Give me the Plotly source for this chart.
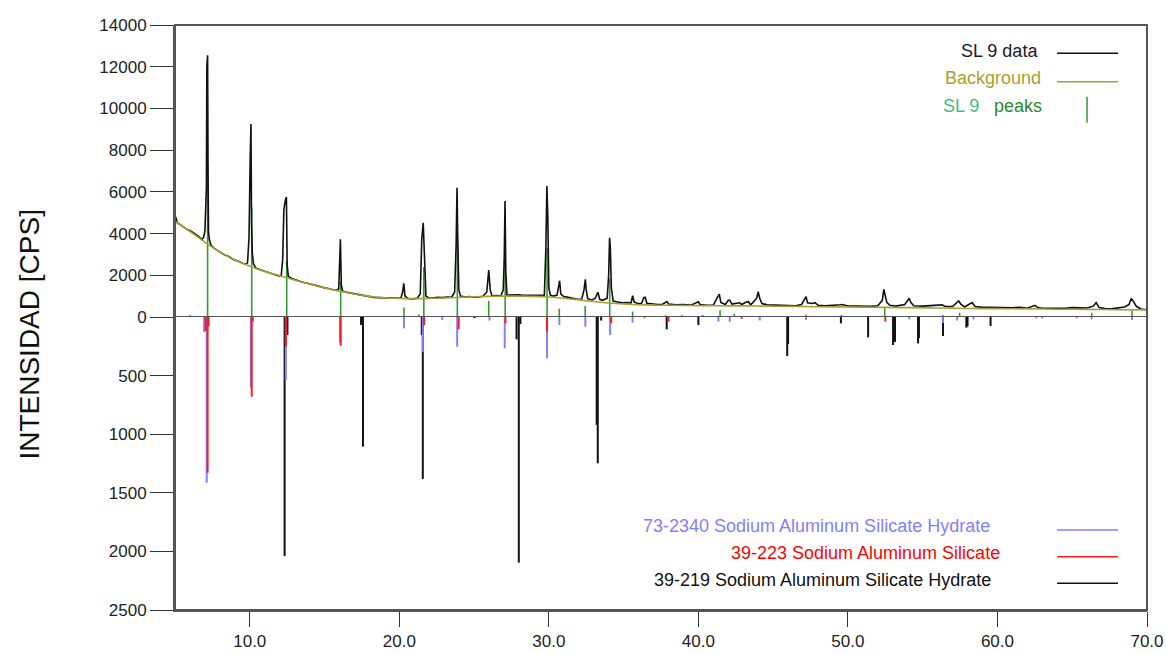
import plotly.graph_objects as go

# ---------------- data ----------------
DATA_2T = [5.00, 5.05, 5.15, 5.4, 5.6, 5.8, 6.0, 6.2, 6.4, 6.6, 6.8, 6.9, 7.00, 7.05, 7.10, 7.13, 7.18, 7.21, 7.24, 7.30,
           7.40, 7.6, 7.8, 8.0, 8.3, 8.6, 8.9, 9.2, 9.5, 9.7, 9.85, 9.95, 10.03, 10.08, 10.12, 10.17, 10.25, 10.4, 10.7,
           11.0, 11.3, 11.6, 11.9, 12.1, 12.2, 12.28, 12.38, 12.45, 12.5, 12.58, 12.8, 13.1, 13.4, 13.7, 14.0, 14.3,
           14.6, 14.9, 15.2, 15.5, 15.8, 15.95, 16.0, 16.06, 16.12, 16.2, 16.5, 16.8, 17.1, 17.4, 17.7, 18.0, 18.3,
           18.6, 18.9, 19.2, 19.5, 19.8, 20.1, 20.22, 20.3, 20.38, 20.6, 20.9, 21.2, 21.4, 21.5, 21.6, 21.68, 21.78,
           22.0, 22.3, 22.6, 22.9, 23.2, 23.5, 23.7, 23.8, 23.86, 23.9, 23.98, 24.1, 24.4, 24.7, 25.0, 25.3, 25.6,
           25.85, 25.98, 26.08, 26.2, 26.5, 26.8, 26.95, 27.02, 27.07, 27.12, 27.2, 27.4, 27.7, 28.0, 28.3, 28.6,
           28.9, 29.2, 29.5, 29.7, 29.8, 29.87, 29.93, 30.0, 30.1, 30.3, 30.55, 30.65, 30.72, 30.8, 31.0, 31.3, 31.6,
           31.9, 32.2, 32.35, 32.44, 32.5, 32.6, 32.9, 33.1, 33.28, 33.4, 33.6, 33.9, 34.0, 34.06, 34.11, 34.18, 34.3,
           34.6, 34.9, 35.2, 35.5, 35.6, 35.7, 35.9, 36.2, 36.35, 36.45, 36.55, 36.9, 37.3, 37.6, 37.9, 38.0, 38.5,
           39.0, 39.5, 40.0, 40.1, 40.6, 41.0, 41.3, 41.4, 41.5, 41.8, 42.0, 42.1, 42.25, 42.65, 42.75, 42.9, 43.2,
           43.35, 43.5, 43.9, 44.0, 44.1, 44.25, 44.6, 45.0, 45.5, 46.0, 46.5, 46.9, 47.1, 47.2, 47.3, 47.6, 47.8,
           48.0, 48.5, 49.0, 49.5, 49.6, 50.0, 50.5, 51.0, 51.5, 52.0, 52.3, 52.4, 52.5, 52.6, 52.8, 53.2, 53.8,
           54.1, 54.2, 54.4, 55.0, 55.6, 56.0, 56.3, 56.5, 57.0, 57.4, 57.55, 57.8, 58.3, 58.5, 59.0, 59.5, 60.0,
           60.5, 61.0, 61.5, 62.0, 62.5, 62.7, 63.0, 63.5, 64.0, 64.5, 65.0, 65.5, 66.0, 66.4, 66.6, 66.8, 67.2,
           67.6, 68.0, 68.5, 68.8, 68.95, 69.1, 69.3, 69.6, 70.0]
DATA_I = [4750, 4800, 4520, 4400, 4330, 4200, 4150, 4050, 3950, 3850, 3700, 3800, 4100, 6100, 6200, 12000, 12550, 7000,
          4100, 3700, 3450, 3300, 3200, 3130, 2980, 2900, 2760, 2680, 2560, 2520, 2600, 3800, 7700, 9250, 4500, 3050,
          2550, 2350, 2260, 2180, 2100, 2050, 1980, 1950, 2750, 5150, 5600, 5750, 2500, 1950, 1850, 1760, 1700, 1640,
          1590, 1560, 1480, 1420, 1380, 1330, 1270, 1350, 2600, 3730, 1550, 1250, 1180, 1140, 1080, 1060, 1020, 980,
          940, 930, 920, 900, 890, 900, 900, 1200, 1610, 1000, 880, 870, 900, 1100, 3700, 4520, 2400, 1000, 900, 940,
          950, 930, 960, 950, 1200, 3450, 6200, 4050, 1300, 1000, 960, 980, 950, 960, 990, 1200, 2250, 1300, 1000,
          1030, 1020, 1300, 2900, 5560, 2200, 1050, 1060, 1080, 1060, 1040, 1040, 1050, 1030, 1020, 1050, 3300, 6280,
          4800, 1400, 1050, 1000, 1050, 1500, 1740, 1100, 980, 940, 900, 850, 860, 1300, 1810, 1300, 880, 820, 900,
          1185, 850, 800, 900, 2000, 3800, 3370, 1400, 760, 720, 680, 690, 680, 1020, 720, 660, 650, 930, 940, 660,
          620, 600, 610, 735, 620, 580, 600, 570, 735, 600, 560, 570, 980, 1090, 700, 600, 800, 800, 620, 690, 680,
          600, 720, 735, 580, 900, 1215, 900, 640, 580, 570, 540, 545, 540, 600, 820, 975, 680, 650, 690, 560, 540,
          550, 590, 600, 530, 520, 500, 510, 540, 800, 1320, 950, 700, 560, 520, 600, 895, 700, 540, 520, 540, 560,
          580, 500, 500, 767, 620, 480, 690, 500, 460, 470, 450, 430, 440, 470, 420, 560, 450, 420, 410, 430, 420,
          450, 450, 430, 520, 690, 450, 400, 390, 420, 480, 600, 895, 735, 500, 380, 350]

BKG_2T = [5, 5.5, 6, 6.5, 7, 7.5, 8, 8.5, 9, 9.5, 10, 10.5, 11, 11.5, 12, 12.5, 13, 13.5, 14, 14.5, 15, 15.5, 16,
          16.5, 17, 17.5, 18, 18.5, 19, 19.5, 20, 21, 22, 23, 24, 25, 26, 27, 28, 29, 30, 31, 32, 33, 34, 35, 36,
          37, 38, 40, 42, 44, 46, 48, 50, 52, 54, 56, 58, 60, 62, 64, 66, 68, 70]
BKG_I = [4600, 4350, 4100, 3850, 3580, 3350, 3120, 2920, 2740, 2580, 2440, 2300, 2180, 2080, 1980, 1870, 1770, 1670,
         1580, 1490, 1400, 1320, 1240, 1170, 1100, 1040, 990, 950, 920, 900, 890, 880, 890, 910, 940, 970, 990, 1000,
         1000, 990, 960, 900, 820, 740, 670, 620, 590, 570, 560, 545, 535, 525, 510, 495, 480, 465, 450, 430, 410,
         400, 390, 375, 365, 350, 340]

PEAKS_2T = [6.0, 7.18, 10.13, 12.47, 16.08, 20.31, 21.31, 21.64, 23.88, 25.98, 27.08, 29.88, 30.7, 32.43, 34.07,
            35.6, 37.8, 38.9, 40.3, 41.45, 42.4, 47.2, 49.57, 52.46, 56.35, 57.47, 66.3, 69.0]
PEAKS_I = [100, 7300, 5250, 2700, 1700, 450, 120, 2400, 3550, 770, 2900, 3300, 400, 530, 1850, 260, 80, 90, 100,
           320, 150, 120, 100, 430, 100, 200, 200, 300]

REF_73_2340_2T = [6.95, 7.12, 10.07, 12.41, 16.03, 20.31, 21.57, 22.87, 23.87, 26.03, 27.05, 29.88, 30.7, 32.44,
                  34.1, 35.6, 36.4, 41.34, 42.1, 44.1, 47.2, 54.1, 56.35, 57.3, 58.4, 62.6, 63.0, 65.3, 66.3, 69.0]
REF_73_2340_I = [130, 1414, 600, 537, 219, 97, 300, 25, 253, 30, 267, 353, 68, 83, 154, 48, 12, 40, 40, 30, 25,
                 20, 51, 30, 20, 12, 12, 12, 20, 25]

REF_39_223_2T = [7.05, 7.18, 7.25, 10.13, 10.2, 12.42, 16.08, 21.66, 23.97, 27.1, 29.88, 34.17, 38.0, 42.9, 52.5]
REF_39_223_I = [120, 1328, 80, 680, 40, 253, 245, 70, 105, 54, 125, 54, 40, 15, 40]

REF_39_219_2T = [12.33, 12.52, 17.44, 17.57, 21.5, 21.57, 25.03, 27.84, 27.99, 28.1, 33.2, 33.27, 33.5, 37.88,
                 40.0, 45.94, 46.0, 49.53, 51.35, 53.02, 53.15, 54.69, 54.75, 56.36, 57.92, 58.0, 59.54]
REF_39_219_I = [2040, 154, 68, 1106, 154, 1382, 10, 190, 2096, 60, 921, 1248, 30, 105, 68, 333, 230, 54, 174,
                239, 213, 225, 180, 162, 91, 80, 77]

X_TICKS = [10, 20, 30, 40, 50, 60, 70]
Y_TOP_TICKS = [0, 2000, 4000, 6000, 8000, 10000, 12000, 14000]
Y_BOTTOM_TICKS = [500, 1000, 1500, 2000, 2500]

# ---------------- styles ----------------
FONT = "Liberation Sans, Arial, sans-serif"
C_BLUE = "#8080ff"
C_RED = "#ff1a1a"
C_BLACK = "#111111"
C_GREEN = "#2f9a2f"
C_OLIVE = "#a8a030"
C_AXIS = "#555555"


def sticks(xs, hs):
    sx, sy = [], []
    for x, h in zip(xs, hs):
        sx += [x, x, None]
        sy += [0, h, None]
    return sx, sy


fig = go.Figure()

# upper panel: peaks, data, background
gx, gy = sticks(PEAKS_2T, PEAKS_I)
fig.add_trace(go.Scatter(x=gx, y=gy, mode="lines", line=dict(color=C_GREEN, width=1.6),
                         xaxis="x", yaxis="y2", hoverinfo="skip"))
fig.add_trace(go.Scatter(x=DATA_2T, y=DATA_I, mode="lines", line=dict(color=C_BLACK, width=1.6),
                         xaxis="x", yaxis="y2"))
fig.add_trace(go.Scatter(x=BKG_2T, y=BKG_I, mode="lines", line=dict(color=C_OLIVE, width=1.6, shape="spline"),
                         xaxis="x", yaxis="y2"))

# lower panel: reference patterns (drawn downward)
for xs, hs, col in [(REF_39_219_2T, REF_39_219_I, C_BLACK),
                    (REF_73_2340_2T, REF_73_2340_I, C_BLUE),
                    (REF_39_223_2T, REF_39_223_I, C_RED)]:
    sx, sy = sticks(xs, hs)
    fig.add_trace(go.Scatter(x=sx, y=sy, mode="lines", line=dict(color=col, width=2),
                             xaxis="x", yaxis="y", hoverinfo="skip"))

SPLIT = 293 / 585

axis_common = dict(showline=True, linecolor=C_AXIS, linewidth=2, ticks="outside",
                   tickcolor="#333333", tickwidth=1, showgrid=False, zeroline=False, automargin=False,
                   tickfont=dict(family=FONT, size=17, color="#222222"))

fig.update_layout(
    width=1166, height=653,
    margin=dict(l=174.5, r=19, t=25, b=43, autoexpand=False),
    paper_bgcolor="white", plot_bgcolor="white",
    showlegend=False,
    xaxis=dict(range=[5, 70], tickvals=X_TICKS, tickformat=".1f", ticklen=15, anchor="y", **axis_common),
    yaxis=dict(domain=[0, SPLIT], range=[2500, 0], tickvals=Y_BOTTOM_TICKS, tickformat="d", ticklen=23,
               anchor="x", **axis_common),
    yaxis2=dict(domain=[SPLIT, 1], range=[0, 14000], tickvals=Y_TOP_TICKS, tickformat="d", ticklen=23,
                anchor="x", **axis_common),
)


def px_x(p):
    return (p - 174.5) / 972.5


def px_y(p):
    return (610 - p) / 585


shapes = [
    dict(type="rect", xref="paper", yref="paper", x0=0, x1=1, y0=0, y1=1,
         line=dict(color=C_AXIS, width=2)),
    dict(type="line", xref="paper", yref="y2", x0=0, x1=1, y0=0, y1=0,
         line=dict(color=C_AXIS, width=2)),
    # legend keys
    dict(type="line", xref="paper", yref="paper", x0=px_x(1057), x1=px_x(1118), y0=px_y(53.3), y1=px_y(53.3),
         line=dict(color=C_BLACK, width=1.5)),
    dict(type="line", xref="paper", yref="paper", x0=px_x(1057), x1=px_x(1118), y0=px_y(81.7), y1=px_y(81.7),
         line=dict(color=C_OLIVE, width=1.5)),
    dict(type="line", xref="paper", yref="paper", x0=px_x(1087), x1=px_x(1087), y0=px_y(96.7), y1=px_y(122.7),
         line=dict(color=C_GREEN, width=1.5)),
    dict(type="line", xref="paper", yref="paper", x0=px_x(1057), x1=px_x(1118), y0=px_y(530), y1=px_y(530),
         line=dict(color=C_BLUE, width=1.5)),
    dict(type="line", xref="paper", yref="paper", x0=px_x(1057), x1=px_x(1118), y0=px_y(556.7), y1=px_y(556.7),
         line=dict(color=C_RED, width=1.5)),
    dict(type="line", xref="paper", yref="paper", x0=px_x(1057), x1=px_x(1118), y0=px_y(583.3), y1=px_y(583.3),
         line=dict(color=C_BLACK, width=1.5)),
]
fig.update_layout(shapes=shapes)


def label(text, xr, yc, color, size=18):
    return dict(text=text, xref="paper", yref="paper", x=px_x(xr), y=px_y(yc), xanchor="right",
                yanchor="middle", showarrow=False, font=dict(family=FONT, size=size, color=color))


annotations = [
    label("SL 9 data", 1040, 51, "#1a1a2e"),
    label("Background", 1043, 78, C_OLIVE),
    label("peaks", 1044, 106, "#2a8a2a"),
    label("SL 9", 981, 106, "#3cc080"),
    label("73-2340 Sodium Aluminum Silicate Hydrate", 992, 526, C_BLUE),
    label("39-223 Sodium Aluminum Silicate", 1002, 553, "#ff0000"),
    label("39-219 Sodium Aluminum Silicate Hydrate", 993, 580, "#111111"),
    dict(text="INTENSIDAD [CPS]", xref="paper", yref="paper", x=px_x(28), y=px_y(335), xanchor="center",
         yanchor="middle", textangle=-90, showarrow=False, font=dict(family=FONT, size=28, color="#111111")),
]
fig.update_layout(annotations=annotations)

fig.write_html("out.html")
